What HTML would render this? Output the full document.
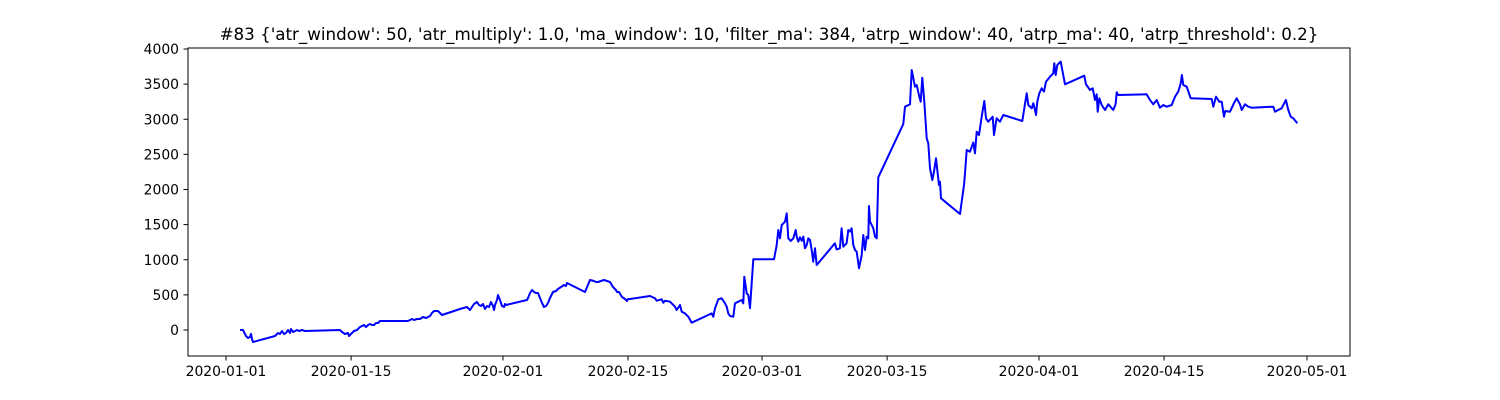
<!DOCTYPE html>
<html><head><meta charset="utf-8"><style>
html,body{margin:0;padding:0;background:#fff;}
svg{display:block;font-family:"DejaVu Sans","Liberation Sans",sans-serif;}
</style></head><body>
<svg id="chart" width="1500" height="400" viewBox="0 0 1500 400" xmlns="http://www.w3.org/2000/svg">
<rect width="1500" height="400" fill="#fff"/>
<text x="769" y="40" font-size="16.7" text-anchor="middle" fill="#000">#83 {'atr_window': 50, 'atr_multiply': 1.0, 'ma_window': 10, 'filter_ma': 384, 'atrp_window': 40, 'atrp_ma': 40, 'atrp_threshold': 0.2}</text>
<g id="xt"></g><g id="yt"></g>
<path id="line" fill="none" stroke="#0000ff" stroke-width="2" stroke-linejoin="round"/>
<rect x="188" y="48" width="1162" height="308" fill="none" stroke="#000" stroke-width="1"/>
</svg>
<script>
const xTickDays=[0,14,31,45,60,74,91,105,121];
const xTickLabels=["2020-01-01","2020-01-15","2020-02-01","2020-02-15","2020-03-01","2020-03-15","2020-04-01","2020-04-15","2020-05-01"];
const yTickValues=[0,500,1000,1500,2000,2500,3000,3500,4000];
const days=[1.57,1.90,2.24,2.46,2.69,2.80,2.91,3.02,5.48,5.82,6.04,6.27,6.49,6.72,6.94,7.16,7.28,7.50,7.95,8.17,8.51,8.84,12.76,12.98,13.32,13.66,13.77,14.10,14.33,14.66,15.00,15.22,15.45,15.67,15.89,16.12,16.34,16.57,16.79,17.01,17.24,20.37,20.60,20.82,21.04,21.38,21.71,22.05,22.39,22.83,23.06,23.28,23.51,23.73,23.95,24.18,26.19,26.97,27.31,27.54,27.76,28.09,28.32,28.54,28.77,28.99,29.21,29.44,29.66,29.89,30.00,30.11,30.33,30.44,30.67,30.89,31.12,31.23,31.34,33.69,33.80,34.03,34.25,34.47,34.70,34.92,35.15,35.37,35.59,35.82,36.04,36.27,36.60,36.94,37.16,37.50,37.83,38.06,38.17,40.18,40.74,41.19,41.41,41.64,41.97,42.31,42.98,43.32,43.65,43.76,43.99,44.32,44.66,44.88,45.00,45.22,
47.46,48.02,48.21,48.77,48.95,49.14,49.70,50.26,50.45,50.82,51.01,51.38,51.75,52.13,54.36,54.54,54.73,55.10,55.48,55.85,56.04,56.22,56.41,56.78,56.97,57.34,57.72,57.90,58.01,58.28,58.46,58.65,59.02,61.34,61.64,61.82,62.01,62.20,62.57,62.76,62.94,63.21,63.50,63.77,63.88,64.06,64.25,64.44,64.62,64.81,65.00,65.18,65.37,65.56,65.73,65.93,66.12,68.16,68.35,68.72,68.91,69.10,69.47,69.65,69.84,70.03,70.21,70.40,70.59,70.85,71.15,71.33,71.52,71.71,71.89,71.97,72.08,72.27,72.45,72.64,72.83,73.01,
75.81,76.00,76.56,76.75,77.12,77.31,77.60,77.76,77.94,78.16,78.43,78.61,78.80,79.06,79.25,79.47,79.62,79.81,79.92,80.03,82.16,82.61,82.72,82.91,83.28,83.65,83.84,84.03,84.28,84.59,84.88,85.07,85.32,85.82,85.96,86.26,86.63,87.00,89.13,89.62,89.80,90.18,90.36,90.55,90.66,90.81,91.03,91.30,91.56,91.78,92.23,92.60,92.71,92.87,93.05,93.43,93.91,96.07,96.26,96.71,97.01,97.27,97.46,97.57,97.75,98.02,98.39,98.76,99.32,99.58,99.70,99.87,103.05,103.42,103.79,104.17,104.54,104.91,105.29,105.85,106.22,106.59,106.86,107.00,107.15,107.53,107.98,110.33,110.51,110.81,111.18,111.45,111.71,111.85,112.38,112.82,113.13,113.50,113.69,114.06,114.43,114.81,117.23,117.42,117.78,118.16,118.64,118.90,119.17,119.46,119.91];
const values=[0,0,-85,-114,-100,-57,-128,-171,-85,-43,-57,-14,-57,-43,0,-43,14,-28,0,-14,0,-14,0,-28,-57,-43,-85,-43,-14,0,43,57,71,43,71,85,71,71,100,100,128,128,142,157,142,157,157,185,171,199,242,270,270,270,242,214,299,327,285,327,370,399,356,342,370,299,342,327,399,342,285,356,427,498,427,342,327,370,356,427,456,527,569,541,527,527,456,384,327,342,384,456,541,555,584,612,641,626,669,541,712,698,683,683,698,712,683,612,569,541,541,470,441,413,441,441,
484,451,417,437,389,417,403,332,285,356,261,237,190,104,237,190,309,437,451,380,332,237,199,190,380,403,427,380,759,522,498,309,1006,1006,1210,1424,1305,1495,1542,1661,1305,1267,1305,1424,1329,1257,1319,1271,1329,1163,1210,1305,1281,1139,972,1163,925,1234,1148,1163,1448,1186,1234,1424,1400,1448,1210,1139,1115,878,1068,1352,1139,1329,1305,1765,1542,1495,1448,1329,1305,2174,
2932,3179,3213,3701,3463,3488,3321,3250,3591,3250,2729,2657,2302,2135,2253,2444,2278,2064,2111,1875,1651,2064,2231,2562,2538,2671,2515,2823,2776,3036,3260,3013,2965,3036,2776,3013,2965,3060,2975,3369,3203,3156,3227,3132,3060,3250,3369,3440,3393,3535,3606,3654,3796,3630,3772,3820,3498,3620,3498,3416,3440,3274,3355,3108,3298,3203,3132,3213,3132,3213,3383,3345,3355,3274,3213,3274,3165,3203,3179,3203,3321,3393,3512,3630,3488,3463,3298,3288,3179,3321,3250,3250,3036,3117,3108,3227,3298,3213,3132,3213,3179,3165,3179,3108,3132,3156,3274,3132,3036,3013,2942];

function xScale(d){return 226+d*8.934;}
function yScale(v){return 330-v*0.07025;}
const NS="http://www.w3.org/2000/svg";
const xt=document.getElementById('xt'), yt=document.getElementById('yt');
xTickDays.forEach((d,i)=>{
  const x=xScale(d);
  const t=document.createElementNS(NS,'line');
  t.setAttribute('x1',x);t.setAttribute('x2',x);t.setAttribute('y1',356);t.setAttribute('y2',360.5);t.setAttribute('stroke','#000');
  
  
  xt.appendChild(t);
  const l=document.createElementNS(NS,'text');
  l.setAttribute('x',x);l.setAttribute('y',376);l.setAttribute('font-size','13.9');l.setAttribute('text-anchor','middle');
  l.textContent=xTickLabels[i];
  
  
  xt.appendChild(l);
});
yTickValues.forEach(v=>{
  const y=yScale(v);
  const t=document.createElementNS(NS,'line');
  t.setAttribute('x1',183.5);t.setAttribute('x2',188);t.setAttribute('y1',y);t.setAttribute('y2',y);t.setAttribute('stroke','#000');
  
  
  yt.appendChild(t);
  const l=document.createElementNS(NS,'text');
  l.setAttribute('x',179);l.setAttribute('y',y+5);l.setAttribute('font-size','13.9');l.setAttribute('text-anchor','end');
  l.textContent=String(v);
  
  
  yt.appendChild(l);
});
let dstr='';
days.forEach((d,i)=>{dstr+=(i?'L':'M')+xScale(d).toFixed(1)+','+yScale(values[i]).toFixed(1);});
document.getElementById('line').setAttribute('d',dstr);
</script>
</body></html>
